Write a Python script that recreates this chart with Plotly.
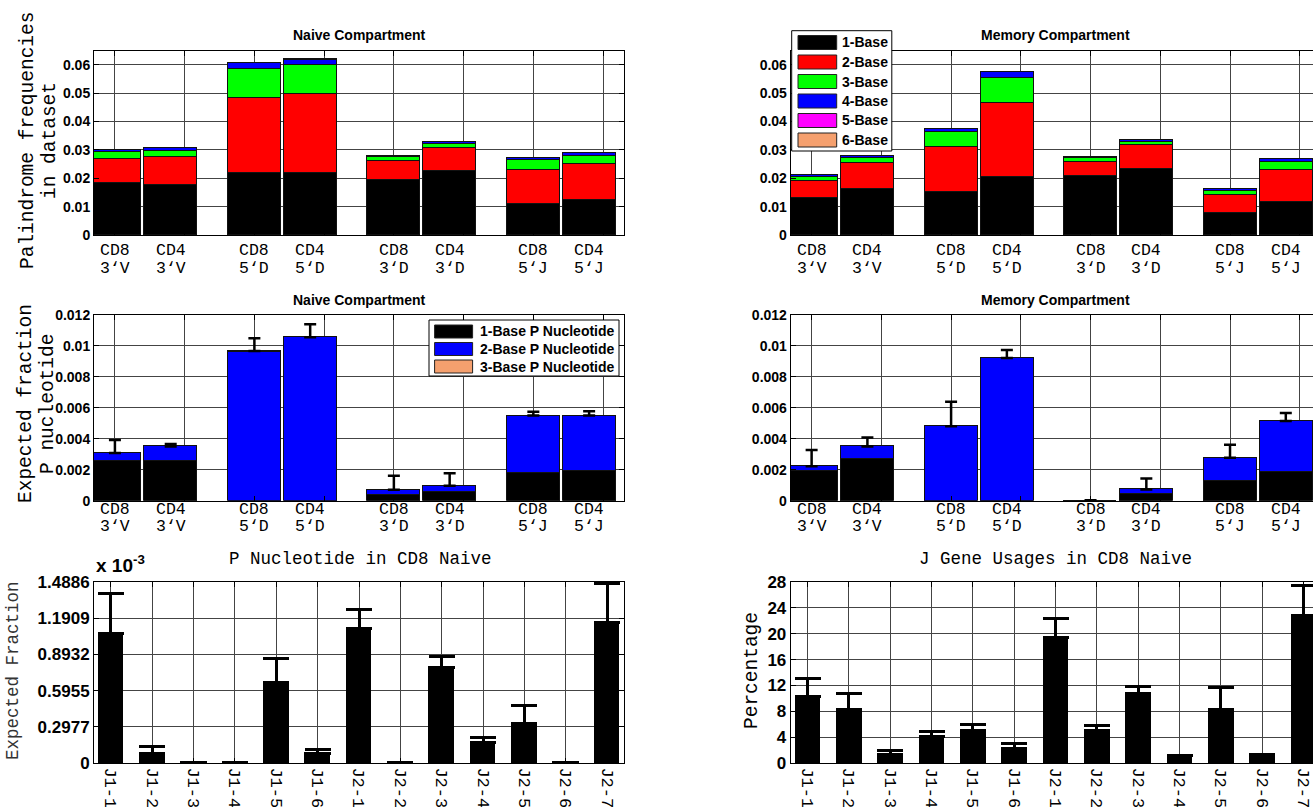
import plotly.graph_objects as go

W, H = 1313, 807

# ---------------------------------------------------------------- data
CELLS = ["CD8", "CD4", "CD8", "CD4", "CD8", "CD4", "CD8", "CD4"]
REGIONS = ["3‘V", "3‘V", "5‘D", "5‘D", "3‘D", "3‘D", "5‘J", "5‘J"]

PAL_LABELS = ["1-Base", "2-Base", "3-Base", "4-Base", "5-Base", "6-Base"]
PAL_COLORS = ["#000000", "#ff0000", "#00ff00", "#0000ff", "#ff00ff", "#f5a06e"]

# palindrome frequencies per palindrome length, naive compartment
naive_pal_1 = [0.0184, 0.0177, 0.0219, 0.0219, 0.0195, 0.0226, 0.0109, 0.0123]
naive_pal_2 = [0.0086, 0.0098, 0.0267, 0.0281, 0.0067, 0.0081, 0.0123, 0.0127]
naive_pal_3 = [0.0023, 0.0021, 0.0100, 0.0100, 0.0013, 0.0016, 0.0033, 0.0028]
naive_pal_4 = [0.0009, 0.0011, 0.0021, 0.0019, 0.0006, 0.0006, 0.0008, 0.0013]
naive_pal_5 = [0.0, 0.0, 0.0, 0.0002, 0.0, 0.0, 0.0, 0.0]
naive_pal_6 = [0.0, 0.0, 0.0, 0.0, 0.0, 0.0, 0.0, 0.0]

# palindrome frequencies per palindrome length, memory compartment
memory_pal_1 = [0.0132, 0.0164, 0.0152, 0.0206, 0.0210, 0.0234, 0.0080, 0.0118]
memory_pal_2 = [0.0060, 0.0090, 0.0161, 0.0259, 0.0050, 0.0085, 0.0063, 0.0114]
memory_pal_3 = [0.0014, 0.0019, 0.0050, 0.0089, 0.0012, 0.0011, 0.0014, 0.0027]
memory_pal_4 = [0.0008, 0.0008, 0.0013, 0.0021, 0.0003, 0.0006, 0.0005, 0.0011]
memory_pal_5 = [0.0, 0.0, 0.0, 0.0, 0.0, 0.0, 0.0, 0.0]
memory_pal_6 = [0.0, 0.0, 0.0, 0.0, 0.0, 0.0, 0.0, 0.0]

P_LABELS = ["1-Base P Nucleotide", "2-Base P Nucleotide", "3-Base P Nucleotide"]
P_COLORS = ["#000000", "#0000ff", "#f5a06e"]

# expected fraction of P nucleotides, naive compartment
naive_p_1 = [0.00259, 0.00259, 0.0, 0.0, 0.00039, 0.00058, 0.00179, 0.00194]
naive_p_2 = [0.00049, 0.00092, 0.00961, 0.01056, 0.00032, 0.00039, 0.00371, 0.00356]
naive_p_3 = [0.0, 0.0, 0.00007, 0.0, 0.0, 0.0, 0.0, 0.0]
naive_p_err = [0.00084, 0.00015, 0.00082, 0.00084, 0.00091, 0.00080, 0.00025, 0.00028]

# expected fraction of P nucleotides, memory compartment
memory_p_1 = [0.00190, 0.00272, 0.0, 0.0, 0.0, 0.00041, 0.00129, 0.00183]
memory_p_2 = [0.00032, 0.00079, 0.00481, 0.00922, 0.0, 0.00032, 0.00149, 0.00332]
memory_p_3 = [0.0, 0.0, 0.0, 0.0, 0.0, 0.0, 0.0, 0.0]
memory_p_err = [0.00106, 0.00058, 0.00159, 0.00052, 0.00003, 0.00071, 0.00084, 0.00052]

J_GENES = ["J1-1", "J1-2", "J1-3", "J1-4", "J1-5", "J1-6",
           "J2-1", "J2-2", "J2-3", "J2-4", "J2-5", "J2-6", "J2-7"]

# P nucleotide expected fraction in CD8 naive (x 10^-3)
j_pnuc = [1.061, 0.082, 0.005, 0.005, 0.658, 0.082, 1.107, 0.005, 0.787, 0.167, 0.329, 0.005, 1.154]
j_pnuc_err = [0.337, 0.050, 0.0, 0.0, 0.200, 0.033, 0.154, 0.0, 0.085, 0.041, 0.142, 0.0, 0.324]
P_TICKS = [0, 0.2977, 0.5955, 0.8932, 1.1909, 1.4886]

# J gene usage in CD8 naive (percent)
j_usage = [10.25, 8.20, 1.27, 4.05, 4.96, 2.18, 19.49, 5.06, 10.68, 1.16, 8.30, 1.27, 22.78]
j_usage_err = [2.85, 2.55, 0.60, 0.76, 1.07, 0.81, 2.89, 0.76, 1.22, 0.0, 3.35, 0.0, 4.66]

# ------------------------------------------------------------- layout helpers
POS = [1.0, 1.8, 3.0, 3.8, 5.0, 5.8, 7.0, 7.8]   # paired bar positions

SANS = "Liberation Sans, Arial, sans-serif"
MONO = "Liberation Mono, Courier New, monospace"
GRID = "#444444"


def fx(p):
    return p / W


def fy(p):
    return 1 - p / H


X_LEFT = [fx(94), fx(624)]
X_RIGHT = [fx(790.7), 1.0]
ROW1 = [fy(235), fy(50.7)]
ROW2 = [fy(500.7), fy(315)]
ROW3 = [fy(763), fy(582)]

fig = go.Figure()


def add_stack(series, colors, xa, ya):
    for vals, col in zip(series, colors):
        fig.add_trace(go.Bar(
            x=POS, y=vals, width=0.76,
            marker=dict(color=col, line=dict(color="#111111", width=1)),
            xaxis=xa, yaxis=ya, showlegend=False, hoverinfo="skip"))


def add_err(series, err, xa, ya):
    totals = [sum(v) for v in zip(*series)]
    fig.add_trace(go.Scatter(
        x=POS, y=totals, mode="markers",
        marker=dict(size=1, color="rgba(0,0,0,0)"),
        error_y=dict(type="data", array=err, arrayminus=[0] * len(err),
                     symmetric=False, color="black", thickness=2.5, width=6),
        xaxis=xa, yaxis=ya, showlegend=False, hoverinfo="skip"))


naive_pal = [naive_pal_1, naive_pal_2, naive_pal_3, naive_pal_4, naive_pal_5, naive_pal_6]
memory_pal = [memory_pal_1, memory_pal_2, memory_pal_3, memory_pal_4, memory_pal_5, memory_pal_6]
naive_p = [naive_p_1, naive_p_2, naive_p_3]
memory_p = [memory_p_1, memory_p_2, memory_p_3]

add_stack(naive_pal, PAL_COLORS, "x", "y")
add_stack(memory_pal, PAL_COLORS, "x2", "y2")
add_stack(naive_p, P_COLORS, "x3", "y3")
add_err(naive_p, naive_p_err, "x3", "y3")
add_stack(memory_p, P_COLORS, "x4", "y4")
add_err(memory_p, memory_p_err, "x4", "y4")

for vals, err, xa, ya in [(j_pnuc, j_pnuc_err, "x5", "y5"), (j_usage, j_usage_err, "x6", "y6")]:
    fig.add_trace(go.Bar(
        x=J_GENES, y=vals, width=0.6,
        marker=dict(color="black", line=dict(color="black", width=1)),
        error_y=dict(type="data", array=err, arrayminus=[0] * len(err),
                     symmetric=False, color="black", thickness=3, width=13),
        xaxis=xa, yaxis=ya, showlegend=False, hoverinfo="skip"))


def frame(**kw):
    d = dict(showline=True, linecolor="black", linewidth=1, ticks="inside",
             ticklen=5, tickcolor="black", showgrid=True, gridcolor=GRID,
             gridwidth=1, zeroline=False, automargin=False)
    d.update(kw)
    return d


YTICK = dict(family=SANS, size=14, color="black", weight="bold")
YTICK_BIG = dict(family=SANS, size=17, color="black", weight="bold")
PAL_TICKS = [0, 0.01, 0.02, 0.03, 0.04, 0.05, 0.06]
PAL_TEXT = ["0", "0.01", "0.02", "0.03", "0.04", "0.05", "0.06"]
FR_TICKS = [0, 0.002, 0.004, 0.006, 0.008, 0.01, 0.012]
FR_TEXT = ["0", "0.002", "0.004", "0.006", "0.008", "0.01", "0.012"]

layout_axes = dict(
    xaxis=frame(domain=X_LEFT, range=[0.7, 8.3], anchor="y", tickvals=list(range(1, 9)),
                showticklabels=False, mirror="ticks"),
    yaxis=frame(domain=ROW1, range=[0, 0.065], anchor="x", tickvals=PAL_TICKS,
                ticktext=PAL_TEXT, tickfont=YTICK, mirror="ticks"),
    xaxis2=frame(domain=X_RIGHT, range=[0.7, 8.19], anchor="y2", tickvals=list(range(1, 9)),
                 showticklabels=False, mirror="ticks"),
    yaxis2=frame(domain=ROW1, range=[0, 0.065], anchor="x2", tickvals=PAL_TICKS,
                 ticktext=PAL_TEXT, tickfont=YTICK),
    xaxis3=frame(domain=X_LEFT, range=[0.7, 8.3], anchor="y3", tickvals=list(range(1, 9)),
                 showticklabels=False, mirror="ticks"),
    yaxis3=frame(domain=ROW2, range=[0, 0.012], anchor="x3", tickvals=FR_TICKS,
                 ticktext=FR_TEXT, tickfont=YTICK, mirror="ticks"),
    xaxis4=frame(domain=X_RIGHT, range=[0.7, 8.19], anchor="y4", tickvals=list(range(1, 9)),
                 showticklabels=False, mirror="ticks"),
    yaxis4=frame(domain=ROW2, range=[0, 0.012], anchor="x4", tickvals=FR_TICKS,
                 ticktext=FR_TEXT, tickfont=YTICK),
    xaxis5=frame(domain=X_LEFT, range=[-0.41, 12.41], anchor="y5", type="category",
                 tickangle=90, tickfont=dict(family=MONO, size=17, color="black"), mirror="ticks"),
    yaxis5=frame(domain=ROW3, range=[0, 1.4886], anchor="x5", tickvals=P_TICKS,
                 ticktext=["0", "0.2977", "0.5955", "0.8932", "1.1909", "1.4886"],
                 tickfont=YTICK_BIG, mirror="ticks"),
    xaxis6=frame(domain=X_RIGHT, range=[-0.41, 12.227], anchor="y6", type="category",
                 tickangle=90, tickfont=dict(family=MONO, size=17, color="black"), mirror="ticks"),
    yaxis6=frame(domain=ROW3, range=[0, 28], anchor="x6", tickvals=list(range(0, 29, 4)),
                 tickfont=YTICK_BIG),
)

annotations = []
shapes = []


def text(x, y, s, font, xanchor="center", yanchor="middle", xref="paper", angle=0, height=None):
    a = dict(x=x, y=y, xref=xref, yref="paper", text=s, showarrow=False,
             font=font, xanchor=xanchor, yanchor=yanchor, textangle=angle)
    if height is not None:
        a["height"] = height
    annotations.append(a)


TITLE = dict(family=SANS, size=14, color="black", weight="bold")
MONO_T = dict(family=MONO, size=17.5, color="black")
MONO_Y = dict(family=MONO, size=19.5, color="black")
CAT = dict(family=MONO, size=16.5, color="black")

# panel titles
text(fx(359), fy(35), "Naive Compartment", TITLE)
text(fx(1055), fy(35), "Memory Compartment", TITLE)
text(fx(359), fy(300), "Naive Compartment", TITLE)
text(fx(1055), fy(300), "Memory Compartment", TITLE)
text(fx(360), fy(559), "P Nucleotide in CD8 Naive", MONO_T)
text(fx(1055), fy(559), "J Gene Usages in CD8 Naive", MONO_T)

# y-axis titles
text(fx(28), fy(141), "Palindrome frequencies", MONO_Y, angle=-90)
text(fx(50), fy(141), "in dataset", MONO_Y, angle=-90)
text(fx(26), fy(404), "Expected fraction", MONO_Y, angle=-90)
text(fx(48), fy(404), "P nucleotide", MONO_Y, angle=-90)
text(fx(13), fy(671), "Expected Fraction", dict(family=MONO, size=17.5, color="#333333"), angle=-90)
text(fx(752), fy(671), "Percentage", MONO_Y, angle=-90)

# exponent label of the P nucleotide axis
text(fx(94), fy(578), "x 10<sup>-3</sup>", dict(family=SANS, size=19, color="black", weight="bold"),
     xanchor="left", yanchor="bottom")

# two-line category labels under the paired bars
for xa, y1, y2 in [("x", 250.5, 268), ("x2", 250.5, 268), ("x3", 509, 526.5), ("x4", 509, 526.5)]:
    for p, c, r in zip(POS, CELLS, REGIONS):
        text(p, fy(y1), c, CAT, xref=xa, height=17)
        text(p, fy(y2), r, CAT, xref=xa, height=17)


def legend_box(x0, x1, y0, y1, sw_x0, sw_x1, row0, step, sw_h, labels, colors, tx):
    shapes.append(dict(type="rect", xref="paper", yref="paper", x0=fx(x0), x1=fx(x1),
                       y0=fy(y1), y1=fy(y0), fillcolor="white",
                       line=dict(color="black", width=1), layer="above"))
    for i, (lab, col) in enumerate(zip(labels, colors)):
        yc = row0 + i * step
        shapes.append(dict(type="rect", xref="paper", yref="paper", x0=fx(sw_x0), x1=fx(sw_x1),
                           y0=fy(yc + sw_h / 2), y1=fy(yc - sw_h / 2), fillcolor=col,
                           line=dict(color="#222222", width=1), layer="above"))
        text(fx(tx), fy(yc), lab, TITLE, xanchor="left")


legend_box(791.7, 891.8, 30.7, 151, 798, 836.7, 42.5, 19.5, 14, PAL_LABELS, PAL_COLORS, 840)
legend_box(429, 619, 320, 376, 434.6, 472.6, 331.5, 17.5, 13, P_LABELS, P_COLORS, 478)

fig.update_layout(
    width=W, height=H, autosize=False,
    margin=dict(l=0, r=0, t=0, b=0, autoexpand=False),
    paper_bgcolor="white", plot_bgcolor="white",
    barmode="stack", bargap=0,
    annotations=annotations, shapes=shapes,
    **layout_axes,
)

fig.write_html("out.html")
